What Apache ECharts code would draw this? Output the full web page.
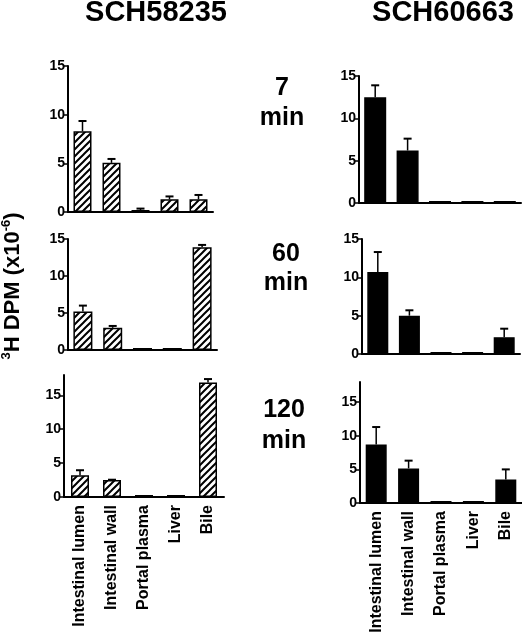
<!DOCTYPE html>
<html>
<head>
<meta charset="utf-8">
<script src="https://cdn.jsdelivr.net/npm/echarts@6/dist/echarts.min.js"></script>
<style>
html,body{margin:0;padding:0;background:#fff;}
#chart{width:522px;height:640px;}
</style>
</head>
<body>
<div id="chart"></div>
<script>
var categories = ['Intestinal lumen', 'Intestinal wall', 'Portal plasma', 'Liver', 'Bile'];
var yTicks = [0, 5, 10, 15];

var sch58235_7min = [8.3, 5.05, 0.2, 1.3, 1.3];
var sch58235_7min_err = [1.05, 0.4, 0.15, 0.3, 0.45];
var sch58235_60min = [5.2, 3.0, 0.08, 0.08, 13.9];
var sch58235_60min_err = [0.8, 0.25, 0, 0, 0.3];
var sch58235_120min = [3.2, 2.5, 0.05, 0.05, 16.9];
var sch58235_120min_err = [0.75, 0.05, 0, 0, 0.5];

var sch60663_7min = [12.5, 6.2, 0.1, 0.1, 0.1];
var sch60663_7min_err = [1.4, 1.4, 0, 0, 0];
var sch60663_60min = [10.7, 5.0, 0.08, 0.08, 2.2];
var sch60663_60min_err = [2.6, 0.7, 0, 0, 1.1];
var sch60663_120min = [8.7, 5.15, 0.1, 0.1, 3.5];
var sch60663_120min_err = [2.6, 1.15, 0, 0, 1.5];

var FONT = '"Liberation Sans", Arial, Helvetica, sans-serif';

// hatch pattern
var hatch = document.createElement('canvas');
hatch.width = 7; hatch.height = 7;
(function () {
  var c = hatch.getContext('2d');
  c.fillStyle = '#fff'; c.fillRect(0, 0, 7, 7);
  c.strokeStyle = '#000'; c.lineWidth = 2;
  c.beginPath();
  c.moveTo(-1, 8); c.lineTo(8, -1);
  c.moveTo(-1, 1); c.lineTo(1, -1);
  c.moveTo(6, 8); c.lineTo(8, 6);
  c.stroke();
})();

var panels = [
  {vals: sch58235_7min, err: sch58235_7min_err, hatched: true, grid: {left: 68, top: 66, width: 145, height: 146}, max: 15, bw: 18, labels: false},
  {vals: sch58235_60min, err: sch58235_60min_err, hatched: true, grid: {left: 68, top: 239, width: 149, height: 111}, max: 15, bw: 19, labels: false},
  {vals: sch58235_120min, err: sch58235_120min_err, hatched: true, grid: {left: 64, top: 375, width: 160, height: 122}, max: 18, bw: 18, labels: true},
  {vals: sch60663_7min, err: sch60663_7min_err, hatched: false, grid: {left: 359, top: 76, width: 162, height: 127}, max: 15, bw: 22, labels: false},
  {vals: sch60663_60min, err: sch60663_60min_err, hatched: false, grid: {left: 362, top: 239, width: 158, height: 115}, max: 15, bw: 21, labels: false},
  {vals: sch60663_120min, err: sch60663_120min_err, hatched: false, grid: {left: 360, top: 382, width: 162, height: 121}, max: 18, bw: 21, labels: true}
];

var grids = [], xAxes = [], yAxes = [], series = [];
panels.forEach(function (p, i) {
  grids.push(p.grid);
  xAxes.push({
    type: 'category', gridIndex: i, data: categories,
    axisLine: {lineStyle: {color: '#000', width: 2}},
    axisTick: {show: false},
    axisLabel: {show: p.labels, rotate: 90, margin: 8, color: '#000', fontFamily: FONT, fontWeight: 'bold', fontSize: 16}
  });
  yAxes.push({
    type: 'value', gridIndex: i, min: 0, max: p.max,
    axisLine: {show: true, lineStyle: {color: '#000', width: 2}},
    axisTick: {show: true, length: 4, lineStyle: {color: '#000', width: 1.5}, customValues: yTicks},
    axisLabel: {color: '#000', fontFamily: FONT, fontWeight: 'bold', fontSize: 14, margin: 3, customValues: yTicks},
    splitLine: {show: false}
  });
  series.push({
    type: 'bar', xAxisIndex: i, yAxisIndex: i, data: p.vals, barWidth: p.bw, barMinHeight: 2,
    itemStyle: {
      color: p.hatched ? {image: hatch, repeat: 'repeat'} : '#000',
      borderColor: '#000', borderWidth: 1.5
    },
    silent: true, animation: false
  });
  var errData = p.vals.map(function (v, k) { return [k, v, p.err[k]]; });
  series.push({
    type: 'custom', xAxisIndex: i, yAxisIndex: i, data: errData, z: 5, animation: false,
    renderItem: function (params, api) {
      var e = api.value(2);
      if (!e) return null;
      var base = api.coord([api.value(0), api.value(1)]);
      var top = api.coord([api.value(0), api.value(1) + e]);
      var w = 4;
      return {
        type: 'group',
        children: [
          {type: 'line', shape: {x1: base[0], y1: base[1], x2: top[0], y2: top[1]}, style: {stroke: '#000', lineWidth: 1.5}},
          {type: 'line', shape: {x1: top[0] - w, y1: top[1], x2: top[0] + w, y2: top[1]}, style: {stroke: '#000', lineWidth: 2}}
        ]
      };
    }
  });
});

function txt(s, x, y, size) {
  return {type: 'text', x: x, y: y, style: {text: s, fill: '#000', font: 'bold ' + size + 'px ' + FONT, textAlign: 'center', textVerticalAlign: 'middle'}};
}

var graphics = [
  txt('SCH58235', 156, 13, 29),
  txt('SCH60663', 443, 13, 29),
  txt('7', 282, 88, 25), txt('min', 282, 118, 25),
  txt('60', 286, 254, 25), txt('min', 286, 283, 25),
  txt('120', 284, 410, 25), txt('min', 284, 441, 25),
  {
    type: 'text', x: 12, y: 286, rotation: Math.PI / 2,
    style: {
      text: '{s|3}{n|H DPM (x10}{s|-6}{n|)}',
      textAlign: 'center', textVerticalAlign: 'middle', fill: '#000',
      rich: {
        n: {fontFamily: FONT, fontWeight: 'bold', fontSize: 22, lineHeight: 24, verticalAlign: 'bottom'},
        s: {fontFamily: FONT, fontWeight: 'bold', fontSize: 13, lineHeight: 24, verticalAlign: 'top'}
      }
    }
  }
];

var chart = echarts.init(document.getElementById('chart'), null, {renderer: 'canvas'});
chart.setOption({
  animation: false,
  grid: grids, xAxis: xAxes, yAxis: yAxes, series: series,
  graphic: graphics
});
</script>
</body>
</html>
